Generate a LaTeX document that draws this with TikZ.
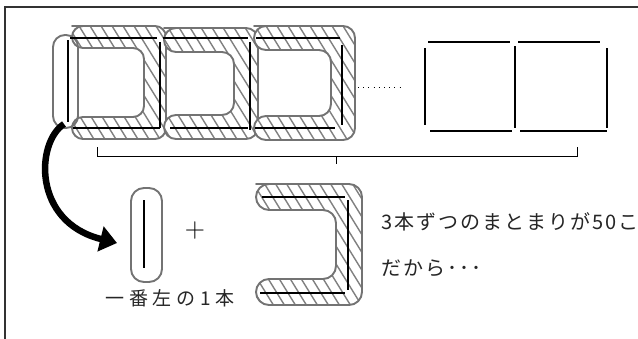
\documentclass[tikz,border=0pt]{standalone}
\usepackage{fontspec}
\newfontfamily\jpA[LetterSpace=10]{Noto Sans CJK JP}
\newfontfamily\jpB[LetterSpace=25]{Noto Sans CJK JP}
\usetikzlibrary{arrows.meta}
\tikzset{
  sketch/.style={draw=black!55, line width=1.9pt, line join=round},
  stick/.style={line width=2pt, black, line cap=butt},
  hatch/.style={black!50, line width=1.4pt},
  frame/.style={draw=black!80, line width=1.2pt},
  bracket/.style={draw=black, line width=0.7pt},
  bigarrow/.style={line width=6.5pt, black, -{Triangle[length=17pt,width=25pt]}},
  jtext/.style={inner sep=0pt, text=black!85},
}
\newcommand\Ushape[6]{\path[rounded corners=#5pt,#6] (#1,{#3-#5}) -- ({#2+#5},{#3-#5}) -- ({#2+#5},{#4+#5}) -- ({#1-#5},{#4+#5}) -- ({#1-#5},{#4-#5}) -- ({#2-#5},{#4-#5}) -- ({#2-#5},{#3+#5}) -- ({#1-#5},{#3+#5}) -- ({#1-#5},{#3-#5}) -- cycle;}
\newcommand\hatchU[5]{%
  \Ushape{#1}{#2}{#3}{#4}{#5}{fill=white}
  \begin{scope}
    \Ushape{#1}{#2}{#3}{#4}{#5}{clip}
    \foreach \k in {-300,-289,...,700} \draw[hatch] (\k,0) -- ++(210,340);
  \end{scope}
  \Ushape{#1}{#2}{#3}{#4}{#5}{sketch}
}
\begin{document}
\begin{tikzpicture}[x=1pt,y=-1pt]
\useasboundingbox (0,0) rectangle (638,338);
\fill[white] (0,0) rectangle (638,338);
% frame
\draw[frame] (5,345) -- (5,7) -- (645,7);
% hatched groups of three
\hatchU{83}{155}{37}{128}{11}
\hatchU{176}{246}{40}{127}{12}
\hatchU{266}{343}{38}{128}{12}
% oval around left stick
\draw[sketch, rounded corners=12pt] (53,35) rectangle (78,128);
% sticks of the first three squares
\draw[stick] (68,40) -- (68,122);
\draw[stick] (70,38) -- (157,38);
\draw[stick] (160,42) -- (160,128);
\draw[stick] (73,128) -- (160,128);
\draw[stick] (163,38) -- (248,38);
\draw[stick] (250,42) -- (250,130);
\draw[stick] (170,128) -- (248,128);
\draw[stick] (256,38) -- (340,38);
\draw[stick] (342,45) -- (342,125);
\draw[stick] (255,128) -- (335,128);
% dots
\draw[line width=1pt, dash pattern=on 1pt off 4.2pt] (358,87) -- (400,87);
% last two squares
\draw[stick, line width=2.4pt] (428,42) -- (510,42);
\draw[stick, line width=2.4pt] (518,42) -- (600,42);
\draw[stick, line width=2.4pt] (425,48) -- (425,125);
\draw[stick, line width=2.4pt] (515,46) -- (515,128);
\draw[stick, line width=2.4pt] (607,48) -- (607,128);
\draw[stick, line width=2.4pt] (430,131) -- (512,131);
\draw[stick, line width=2.4pt] (520,131) -- (607,131);
% bracket
\draw[bracket] (97,147) -- (97,156) -- (577,156) -- (577,147);
\draw[bracket] (336,156) -- (336,164);
% arrow
\coordinate (leftstick) at (64,124);
\coordinate (arrowtip) at (117,243);
\draw[bigarrow] (leftstick) .. controls (36,142) and (32,222) .. (arrowtip);
% single stick
\draw[sketch, rounded corners=13pt] (131,188) rectangle (162,282);
\draw[stick] (144,200) -- (144,268);
\node[inner sep=0pt] (plus) at (195,231) {\fontsize{28}{28}\selectfont +};
% big U
\hatchU{269}{349}{197}{292}{13}
\draw[stick] (262,197) -- (345,197);
\draw[stick] (348,200) -- (348,290);
\draw[stick] (260,293) -- (345,293);
% texts
\node[jtext, anchor=center] (label) at (170,298) {\fontsize{19}{21}\selectfont\jpB 一番左の1本};
\node[jtext, anchor=west] (text1) at (381,222) {\fontsize{20}{22}\selectfont\jpA 3本ずつのまとまりが50こ};
\node[jtext, anchor=west] (text2) at (381,268) {\fontsize{20}{22}\selectfont\jpA だから･･･};
\end{tikzpicture}
\end{document}
